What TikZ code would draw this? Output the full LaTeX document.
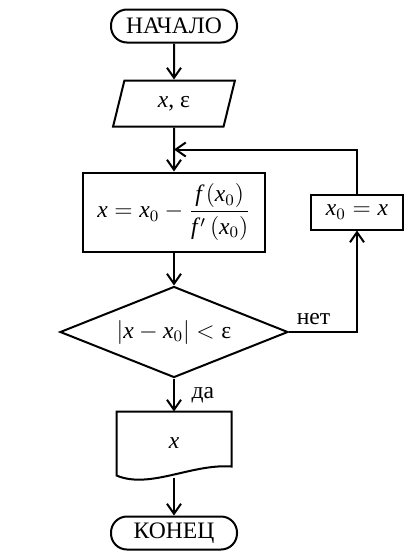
\documentclass[tikz,border=0pt]{standalone}
\usepackage{amsmath}
\usepackage{fontspec}
\setmainfont{Liberation Serif}
\usepackage{tikz}
\usetikzlibrary{arrows.meta,positioning,shapes.geometric,calc}

\begin{document}
\begin{tikzpicture}[line width=1pt,every node/.style={font=\fontsize{11.8}{13}\selectfont},
  term/.style={draw,rounded corners=8pt,minimum width=63pt,minimum height=16.5pt,inner sep=0pt},
  io/.style={draw,trapezium,trapezium left angle=76,trapezium right angle=104,trapezium stretches=true,minimum width=61pt,minimum height=23pt,inner sep=0pt},
  box/.style={draw,inner sep=0pt},
  cond/.style={draw,diamond,aspect=2.5,minimum width=114pt,minimum height=45.5pt,inner sep=0pt},
  arr/.style={-{Straight Barb[length=5pt,width=7pt]}}]
  \useasboundingbox (0,0) rectangle (207pt,-278.5pt);
  \node[term] (start) at (87pt,-13pt) {НАЧАЛО};
  \node[io,below=18pt of start] (input) {$\mathit{x}$, ε};
  \node[box,below=22pt of input,minimum width=91pt,minimum height=39.5pt] (calc) {$\mathit{x}=\mathit{x}_0-\dfrac{\mathit{f}\,(\mathit{x}_0)}{\mathit{f}^{\,\prime}\,(\mathit{x}_0)}$};
  \node[box,right=22pt of calc,minimum width=46pt,minimum height=17.5pt] (update) {$\mathit{x}_0=\mathit{x}$};
  \node[cond,below=16.5pt of calc] (check) {$\left|\mathit{x}-\mathit{x}_0\right|<\text{ε}$};
  \node[below=16.5pt of check,minimum width=56.5pt,minimum height=31pt,inner sep=0pt] (output) {$\mathit{x}$};
  \draw (output.south west) -- (output.north west) -- (output.north east) -- ([yshift=4.5pt]output.south east)
    .. controls +(-20pt,1.5pt) and +(16.5pt,-7pt) .. (output.south west) -- cycle;
  \node[term,below=20pt of output] (stop) {КОНЕЦ};
  \coordinate (join) at ($(input.south)!.5!(calc.north)$);
  \coordinate (wave) at ([yshift=-1pt]output.south);
  \draw[arr] (start) -- (input);
  \draw[arr] (input) -- (calc);
  \draw[arr] (calc) -- (check);
  \draw[arr] (check) -- node[right=5pt]{да} (output);
  \draw[arr] (wave) -- (stop);
  \draw[arr] (check.east) -| node[pos=.18,above]{нет} (update.south);
  \draw[arr] (update.north) |- (join);
\end{tikzpicture}
\end{document}
